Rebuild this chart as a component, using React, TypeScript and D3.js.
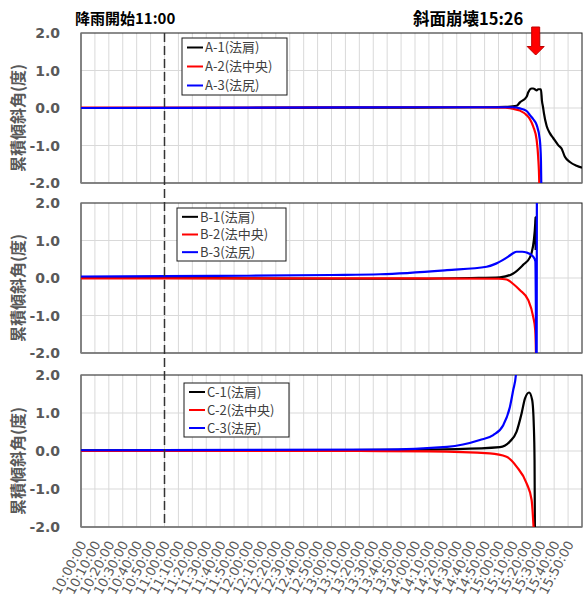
import React, { useEffect, useRef } from 'react';
import * as d3 from 'd3';

// time axis labels, every 10 minutes
const timeTicks = [
  "10:00:00", "10:10:00", "10:20:00", "10:30:00", "10:40:00", "10:50:00",
  "11:00:00", "11:10:00", "11:20:00", "11:30:00", "11:40:00", "11:50:00",
  "12:00:00", "12:10:00", "12:20:00", "12:30:00", "12:40:00", "12:50:00",
  "13:00:00", "13:10:00", "13:20:00", "13:30:00", "13:40:00", "13:50:00",
  "14:00:00", "14:10:00", "14:20:00", "14:30:00", "14:40:00", "14:50:00",
  "15:00:00", "15:10:00", "15:20:00", "15:30:00", "15:40:00", "15:50:00",
];
const yTicks = [2, 1, 0, -1, -2];

const rainStart = "11:00:00";
const collapse = "15:26:00";

// panel A
const namesA = ["A-1(法肩)", "A-2(法中央)", "A-3(法尻)"];
const a1: [string, number][] = [
  ["10:00:00", 0.0], ["11:00:00", 0.0], ["12:00:00", 0.0], ["13:00:00", 0.01],
  ["14:00:00", 0.01], ["14:50:00", 0.02], ["15:05:00", 0.03], ["15:13:00", 0.06],
  ["15:15:24", 0.15], ["15:20:12", 0.30], ["15:21:24", 0.42], ["15:23:48", 0.52],
  ["15:25:00", 0.52], ["15:26:06", 0.50], ["15:27:24", 0.47], ["15:28:30", 0.50],
  ["15:30:30", 0.50], ["15:31:12", 0.20], ["15:32:06", 0.0], ["15:32:36", -0.13],
  ["15:34:36", -0.48], ["15:36:54", -0.67], ["15:39:18", -0.80], ["15:42:54", -0.99],
  ["15:45:18", -1.08], ["15:47:42", -1.30], ["15:51:18", -1.44], ["15:56:06", -1.54],
  ["16:00:00", -1.59],
];
const a2: [string, number][] = [
  ["10:00:00", 0.01], ["12:00:00", 0.01], ["13:30:00", 0.02], ["14:40:00", 0.02],
  ["15:05:00", 0.01], ["15:10:18", -0.02], ["15:15:24", -0.07], ["15:20:12", -0.19],
  ["15:22:36", -0.30], ["15:25:00", -0.50], ["15:27:24", -0.85], ["15:28:30", -1.30],
  ["15:29:18", -2.0], ["15:29:36", -3.0],
];
const a3: [string, number][] = [
  ["10:00:00", 0.0], ["12:00:00", 0.01], ["14:00:00", 0.02], ["15:10:00", 0.02],
  ["15:15:24", -0.01], ["15:20:12", -0.08], ["15:22:36", -0.19], ["15:25:00", -0.30],
  ["15:27:24", -0.45], ["15:29:42", -0.85], ["15:30:30", -1.40], ["15:30:48", -2.2],
  ["15:31:00", -3.0],
];

// panel B
const namesB = ["B-1(法肩)", "B-2(法中央)", "B-3(法尻)"];
const b1: [string, number][] = [
  ["10:00:00", 0.0], ["11:00:00", 0.0], ["12:00:00", -0.01], ["13:00:00", -0.02],
  ["14:00:00", -0.02], ["14:40:00", 0.0], ["15:01:00", 0.02], ["15:10:36", 0.12],
  ["15:17:42", 0.35], ["15:22:36", 0.55], ["15:23:42", 0.66], ["15:25:24", 1.01],
  ["15:26:24", 1.46], ["15:26:36", 1.62], ["15:26:42", 0.75],
];
const b2: [string, number][] = [
  ["10:00:00", -0.01], ["12:00:00", -0.01], ["14:00:00", -0.01], ["15:00:00", -0.02],
  ["15:05:48", -0.04], ["15:10:36", -0.16], ["15:15:18", -0.32], ["15:21:24", -0.59],
  ["15:24:54", -1.03], ["15:26:24", -1.39], ["15:26:54", -2.0], ["15:27:06", -3.0],
];
const b3: [string, number][] = [
  ["10:00:00", 0.04], ["11:00:00", 0.05], ["12:00:00", 0.06], ["13:00:00", 0.08],
  ["13:35:00", 0.10], ["14:23:00", 0.21], ["14:51:30", 0.30], ["14:58:36", 0.39],
  ["15:07:00", 0.57], ["15:10:30", 0.66], ["15:13:00", 0.70], ["15:17:00", 0.70],
  ["15:20:12", 0.68], ["15:24:54", 0.57], ["15:26:30", 0.45], ["15:27:24", -3.0],
  ["15:27:36", 3.0],
];

// panel C
const namesC = ["C-1(法肩)", "C-2(法中央)", "C-3(法尻)"];
const c1: [string, number][] = [
  ["10:00:00", 0.02], ["12:00:00", 0.02], ["13:35:00", 0.03], ["14:30:00", 0.05],
  ["15:01:00", 0.10], ["15:08:12", 0.25], ["15:13:00", 0.51], ["15:16:36", 0.99],
  ["15:19:00", 1.38], ["15:22:00", 1.54], ["15:24:12", 1.34], ["15:25:24", 0.64],
  ["15:25:54", -0.24], ["15:26:12", -2.3],
];
const c2: [string, number][] = [
  ["10:00:00", 0.0], ["13:20:00", 0.0], ["14:10:00", -0.01], ["14:53:48", -0.06],
  ["15:05:48", -0.15], ["15:13:00", -0.41], ["15:20:12", -0.85], ["15:23:48", -1.29],
  ["15:25:30", -2.2],
];
const c3: [string, number][] = [
  ["10:00:00", 0.02], ["12:00:00", 0.03], ["13:35:00", 0.04], ["14:23:00", 0.11],
  ["14:46:36", 0.29], ["14:56:12", 0.42], ["15:03:24", 0.68], ["15:08:12", 1.16],
  ["15:10:36", 1.61], ["15:12:30", 2.0], ["15:13:30", 2.6],
];

const colors = ["#000000", "#ff0000", "#0000ff"];

const App = () => {
  const ref = useRef<SVGSVGElement>(null);

  useEffect(() => {
    const svg = d3.select(ref.current);
    svg.selectAll("*").remove();

    const parse = d3.timeParse("%H:%M:%S");
    const x = d3.scaleTime()
      .domain([parse("10:00:00")!, parse("16:00:00")!])
      .range([81, 582]);

    const panels = [
      { id: "A", top: 33, bottom: 183, names: namesA, series: [a1, a2, a3], legend: { x: 182, y: 38, w: 105, h: 57 } },
      { id: "B", top: 203, bottom: 353, names: namesB, series: [b1, b2, b3], legend: { x: 177, y: 208, w: 109, h: 53 } },
      { id: "C", top: 375, bottom: 527, names: namesC, series: [c1, c2, c3], legend: { x: 184, y: 383, w: 105, h: 54 } },
    ];

    const defs = svg.append("defs");

    panels.forEach(p => {
      const y = d3.scaleLinear().domain([-2, 2]).range([p.bottom, p.top]);
      const g = svg.append("g");

      defs.append("clipPath").attr("id", `clip${p.id}`)
        .append("rect")
        .attr("x", x.range()[0]).attr("y", p.top)
        .attr("width", x.range()[1] - x.range()[0]).attr("height", p.bottom - p.top);

      // grid
      g.append("g").selectAll("line")
        .data(timeTicks.slice(1))
        .enter().append("line")
        .attr("x1", d => x(parse(d)!)).attr("x2", d => x(parse(d)!))
        .attr("y1", p.top).attr("y2", p.bottom)
        .attr("stroke", "#d9d9d9").attr("stroke-width", 1);
      g.append("g").selectAll("line")
        .data([1, 0, -1])
        .enter().append("line")
        .attr("x1", x.range()[0]).attr("x2", x.range()[1])
        .attr("y1", d => y(d)).attr("y2", d => y(d))
        .attr("stroke", "#d9d9d9").attr("stroke-width", 1);

      // frame
      g.append("rect")
        .attr("x", x.range()[0]).attr("y", p.top)
        .attr("width", x.range()[1] - x.range()[0]).attr("height", p.bottom - p.top)
        .attr("fill", "none").attr("stroke", "#1a1a1a").attr("stroke-width", 1);
      g.append("line")
        .attr("x1", x.range()[0]).attr("x2", x.range()[1])
        .attr("y1", p.bottom).attr("y2", p.bottom)
        .attr("stroke", "#808080").attr("stroke-width", 1.5);
      g.append("line")
        .attr("x1", x.range()[0]).attr("x2", x.range()[0])
        .attr("y1", p.top).attr("y2", p.bottom)
        .attr("stroke", "#808080").attr("stroke-width", 1.5);

      // y tick labels
      g.append("g").selectAll("text")
        .data(yTicks)
        .enter().append("text")
        .attr("x", 60).attr("y", d => y(d))
        .attr("dy", "0.36em")
        .attr("text-anchor", "end")
        .attr("font-family", "DejaVu Sans")
        .attr("font-weight", "bold")
        .attr("font-size", 14)
        .attr("fill", "#595959")
        .text(d => d.toFixed(1));

      // y axis title
      g.append("text")
        .attr("transform", `translate(18,${(p.top + p.bottom) / 2 + 10}) rotate(-90)`)
        .attr("text-anchor", "middle")
        .attr("dy", "0.35em")
        .attr("font-family", "Noto Sans CJK JP")
        .attr("font-weight", "bold")
        .attr("font-size", 16)
        .attr("fill", "#595959")
        .text("累積傾斜角(度)");

      // series
      const line = d3.line<[string, number]>()
        .x(d => x(parse(d[0])!))
        .y(d => y(d[1]))
        .curve(d3.curveMonotoneX);
      const lines = g.append("g").attr("clip-path", `url(#clip${p.id})`);
      p.series.forEach((s, i) => {
        lines.append("path")
          .datum(s)
          .attr("d", line)
          .attr("fill", "none")
          .attr("stroke", colors[i])
          .attr("stroke-width", 2.2)
          .attr("stroke-linejoin", "round");
      });

      // legend
      const lg = g.append("g");
      lg.append("rect")
        .attr("x", p.legend.x).attr("y", p.legend.y)
        .attr("width", p.legend.w).attr("height", p.legend.h)
        .attr("fill", "#ffffff").attr("stroke", "#1a1a1a").attr("stroke-width", 1);
      const rowH = p.legend.h / 3;
      p.names.forEach((n, i) => {
        const ry = p.legend.y + rowH * (i + 0.5);
        lg.append("line")
          .attr("x1", p.legend.x + 5).attr("x2", p.legend.x + 21)
          .attr("y1", ry).attr("y2", ry)
          .attr("stroke", colors[i]).attr("stroke-width", 2);
        lg.append("text")
          .attr("x", p.legend.x + 23).attr("y", ry)
          .attr("dy", "0.36em")
          .attr("font-family", "Noto Sans CJK JP")
          .attr("font-size", 13)
          .attr("fill", "#404040")
          .text(n);
      });
    });

    // x tick labels under the last panel
    svg.append("g").selectAll("text")
      .data(timeTicks)
      .enter().append("text")
      .attr("transform", d => `translate(${x(parse(d)!) + 6},${544}) rotate(-62)`)
      .attr("text-anchor", "end")
      .attr("font-family", "DejaVu Sans")
      .attr("font-size", 13)
      .attr("fill", "#595959")
      .text(d => d);

    // rain start marker
    const xr = x(parse(rainStart)!);
    svg.append("line")
      .attr("x1", xr).attr("x2", xr)
      .attr("y1", 33).attr("y2", 527)
      .attr("stroke", "#333333").attr("stroke-width", 1.5)
      .attr("stroke-dasharray", "9,4");

    svg.append("text")
      .attr("x", 75).attr("y", 24)
      .attr("font-family", "Noto Sans CJK JP")
      .attr("font-weight", "bold")
      .attr("font-size", 15)
      .attr("fill", "#000000")
      .text("降雨開始11:00");

    // collapse marker
    const xc = x(parse(collapse)!) + 1;
    svg.append("text")
      .attr("x", 413).attr("y", 25)
      .attr("font-family", "Noto Sans CJK JP")
      .attr("font-weight", "bold")
      .attr("font-size", 16.5)
      .attr("fill", "#000000")
      .text("斜面崩壊15:26");
    svg.append("path")
      .attr("d", `M${xc - 4},27 L${xc + 4},27 L${xc + 4},46.5 L${xc + 8.5},46.5 L${xc},55 L${xc - 8.5},46.5 L${xc - 4},46.5 Z`)
      .attr("fill", "#ff0000")
      .attr("stroke", "#c00000")
      .attr("stroke-width", 1);
  }, []);

  return (
    <svg ref={ref} width={584} height={601}
      style={{ position: "absolute", left: 0, top: 0, background: "#ffffff" }} />
  );
};

export default App;
